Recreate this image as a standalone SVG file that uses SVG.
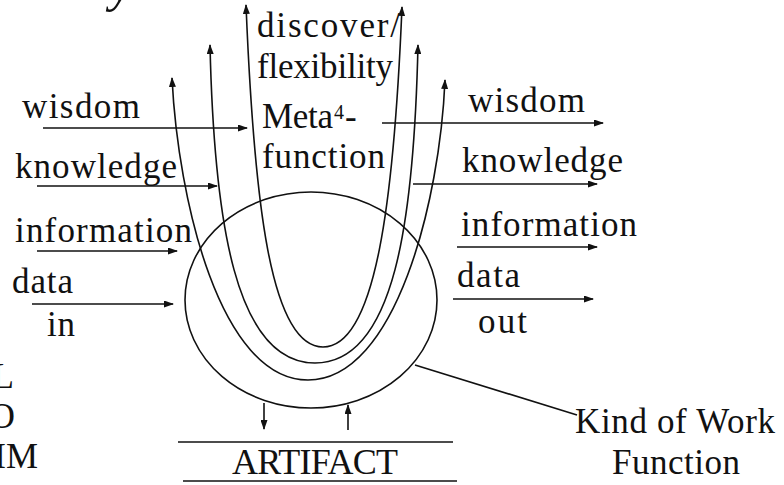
<svg xmlns="http://www.w3.org/2000/svg" width="784" height="485" viewBox="0 0 784 485">
  <style>
    text { font-family: "Liberation Serif", "DejaVu Serif", serif; fill: #111; }
    .lbl { font-size: 35px; }
    .big { font-size: 36px; }
    .ln { fill: none; stroke: #111; stroke-width: 1.6; }
    .arr { fill: none; stroke: #111; stroke-width: 1.6; marker-end: url(#ah); }
    .u { fill: none; stroke: #111; stroke-width: 1.6; marker-start: url(#ah); marker-end: url(#ah); }
  </style>
  <defs>
    <marker id="ah" viewBox="0 0 10 7" refX="9" refY="3.5" markerWidth="10" markerHeight="7" markerUnits="userSpaceOnUse" orient="auto-start-reverse">
      <path d="M0,0 L10,3.5 L0,7 z" fill="#111"/>
    </marker>
  </defs>
  <rect width="784" height="485" fill="#fff"/>

  <g id="fragments">
    <text x="110" y="1" style="font-size:50px;font-style:italic">y</text>
    <text x="-8" y="388" class="big">L</text>
    <text x="-11" y="428" class="big">O</text>
    <text x="-6" y="468" class="big">IM</text>
  </g>

  <g id="work-function">
    <ellipse cx="311" cy="300" rx="126" ry="108" class="ln"/>
  </g>

  <g id="meta-function">
    <text x="257" y="37" class="lbl" textLength="143" lengthAdjust="spacing">discover/</text>
    <text x="257" y="78" class="lbl" textLength="136" lengthAdjust="spacing">flexibility</text>
    <text x="262" y="128" class="lbl" textLength="71" lengthAdjust="spacing">Meta</text>
    <text x="334" y="119" style="font-size:20px">4</text>
    <text x="345" y="128" class="lbl">-</text>
    <text x="262" y="168" class="lbl" textLength="123" lengthAdjust="spacing">function</text>
  </g>

  <g id="inputs">
    <text x="22" y="118" class="lbl" textLength="118" lengthAdjust="spacing">wisdom</text>
    <text x="15" y="178" class="lbl" textLength="162" lengthAdjust="spacing">knowledge</text>
    <text x="15" y="242" class="lbl" textLength="177" lengthAdjust="spacing">information</text>
    <text x="12" y="293" class="lbl" textLength="61" lengthAdjust="spacing">data</text>
    <text x="47" y="336" class="lbl" textLength="28" lengthAdjust="spacing">in</text>
  </g>

  <g id="outputs">
    <text x="468" y="112" class="lbl" textLength="117" lengthAdjust="spacing">wisdom</text>
    <text x="462" y="172" class="lbl" textLength="161" lengthAdjust="spacing">knowledge</text>
    <text x="461" y="236" class="lbl" textLength="176" lengthAdjust="spacing">information</text>
    <text x="457" y="287" class="lbl" textLength="63" lengthAdjust="spacing">data</text>
    <text x="478" y="333" class="lbl" textLength="49" lengthAdjust="spacing">out</text>
  </g>

  <g id="artifact">
    <line x1="178" y1="442" x2="453" y2="442" class="ln"/>
    <line x1="183" y1="481" x2="457" y2="481" class="ln"/>
    <text x="232" y="474" class="big" textLength="166" lengthAdjust="spacing">ARTIFACT</text>
  </g>

  <g id="kind-of-work-label">
    <text x="575" y="433" class="lbl" textLength="200" lengthAdjust="spacing">Kind of Work</text>
    <text x="612" y="474" class="lbl" textLength="128" lengthAdjust="spacing">Function</text>
  </g>

  <g id="connectors">
    <path class="u" d="M246,5 C254,200 270,347 323,347 C376,347 394,200 402,7"/>
    <path class="u" d="M210,45 C214,220 235,363 315,363 C395,363 414,220 418,45"/>
    <path class="u" d="M172,78 C178,200 220,380 308,380 C396,380 440,200 445,80"/>
    <line x1="43" y1="128" x2="247" y2="128" class="arr"/>
    <line x1="37" y1="186" x2="217" y2="186" class="arr"/>
    <line x1="37" y1="251" x2="177" y2="251" class="arr"/>
    <line x1="32" y1="304" x2="173" y2="304" class="arr"/>
    <line x1="382" y1="123" x2="603" y2="123" class="arr"/>
    <line x1="413" y1="184" x2="597" y2="184" class="arr"/>
    <line x1="457" y1="247" x2="597" y2="247" class="arr"/>
    <line x1="453" y1="299" x2="593" y2="299" class="arr"/>
    <line x1="264" y1="403" x2="264" y2="429" class="arr"/>
    <line x1="348" y1="430" x2="348" y2="405" class="arr"/>
    <line x1="415" y1="365" x2="577" y2="415" class="ln"/>
  </g>
</svg>
